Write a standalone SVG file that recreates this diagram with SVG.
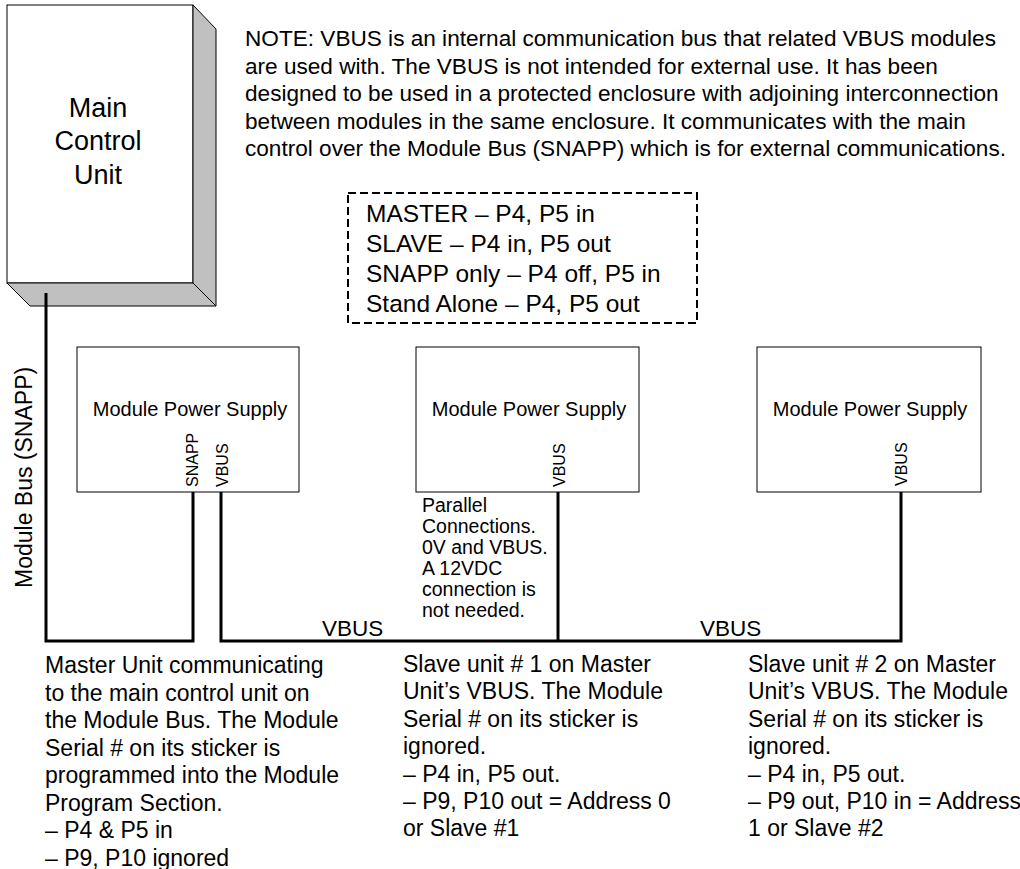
<svg xmlns="http://www.w3.org/2000/svg" width="1020" height="869" viewBox="0 0 1020 869">
<style>
text{font-family:"Liberation Sans",Arial,sans-serif;fill:#000}
.box{fill:#fff;stroke:#000;stroke-width:1}
.side{fill:#c0c0c0;stroke:#000;stroke-width:1;stroke-linejoin:miter}
.wire{fill:none;stroke:#000;stroke-width:3;stroke-linejoin:miter;stroke-linecap:butt}
.dash{fill:none;stroke:#000;stroke-width:2;stroke-dasharray:8 4}
.body{font-size:23px}
.mps{font-size:20px}
.pin{font-size:16px}
</style>
<rect width="1020" height="869" fill="#fff"/>
<g id="main-control-unit">
<rect class="box" x="7" y="5" width="186" height="278"/>
<polygon class="side" points="193,5 216,29 216,306 193,283"/>
<polygon class="side" points="7,283 30,306 216,306 193,283"/>
<text x="98" y="117" font-size="27" text-anchor="middle">Main</text>
<text x="98" y="150" font-size="27" text-anchor="middle">Control</text>
<text x="98" y="184" font-size="27" text-anchor="middle">Unit</text>
</g>
<g id="note">
<text x="245" y="46" font-size="22.6">NOTE: VBUS is an internal communication bus that related VBUS modules</text>
<text x="245" y="73.6" font-size="22.6">are used with. The VBUS is not intended for external use. It has been</text>
<text x="245" y="101.2" font-size="22.6">designed to be used in a protected enclosure with adjoining interconnection</text>
<text x="245" y="128.8" font-size="22.6">between modules in the same enclosure. It communicates with the main</text>
<text x="245" y="156.4" font-size="22.6">control over the Module Bus (SNAPP) which is for external communications.</text>
</g>
<g id="jumper-legend">
<rect class="dash" x="348" y="193" width="349" height="130"/>
<text x="366" y="222" font-size="24.5">MASTER – P4, P5 in</text>
<text x="366" y="252" font-size="24.5">SLAVE – P4 in, P5 out</text>
<text x="366" y="282" font-size="24.5">SNAPP only – P4 off, P5 in</text>
<text x="366" y="312" font-size="24.5">Stand Alone – P4, P5 out</text>
</g>
<g id="connectors">
<polyline class="wire" points="46,293 46,641 193,641 193,492"/>
<polyline class="wire" points="221,492 221,641 901,641 901,492"/>
<line class="wire" x1="558" y1="492" x2="558" y2="641"/>
<text x="322" y="636" font-size="22.5">VBUS</text>
<text x="700" y="636" font-size="22.5">VBUS</text>
<text transform="translate(32,588) rotate(-90)" font-size="23">Module Bus (SNAPP)</text>
</g>
<g id="module-1">
<rect class="box" x="77" y="347" width="222" height="145"/>
<text class="mps" x="190" y="416" text-anchor="middle">Module Power Supply</text>
<text class="pin" transform="translate(198,487) rotate(-90)">SNAPP</text>
<text class="pin" transform="translate(228,487) rotate(-90)">VBUS</text>
</g>
<g id="module-2">
<rect class="box" x="416" y="347" width="223" height="145"/>
<text class="mps" x="529" y="416" text-anchor="middle">Module Power Supply</text>
<text class="pin" transform="translate(565,487) rotate(-90)">VBUS</text>
</g>
<g id="module-3">
<rect class="box" x="757" y="347" width="224" height="145"/>
<text class="mps" x="870" y="416" text-anchor="middle">Module Power Supply</text>
<text class="pin" transform="translate(907,486) rotate(-90)">VBUS</text>
</g>
<g id="parallel-note">
<text x="422" y="512" font-size="19.5">Parallel</text>
<text x="422" y="533" font-size="19.5">Connections.</text>
<text x="422" y="554" font-size="19.5">0V and VBUS.</text>
<text x="422" y="575" font-size="19.5">A 12VDC</text>
<text x="422" y="596" font-size="19.5">connection is</text>
<text x="422" y="617" font-size="19.5">not needed.</text>
</g>
<g id="master-desc" class="body">
<text x="45" y="673">Master Unit communicating</text>
<text x="45" y="700.5">to the main control unit on</text>
<text x="45" y="728">the Module Bus. The Module</text>
<text x="45" y="755.5">Serial # on its sticker is</text>
<text x="45" y="783">programmed into the Module</text>
<text x="45" y="810.5">Program Section.</text>
<text x="45" y="838">– P4 &amp; P5 in</text>
<text x="45" y="865.5">– P9, P10 ignored</text>
</g>
<g id="slave1-desc" class="body">
<text x="403" y="672">Slave unit # 1 on Master</text>
<text x="403" y="699.4">Unit’s VBUS. The Module</text>
<text x="403" y="726.8">Serial # on its sticker is</text>
<text x="403" y="754.2">ignored.</text>
<text x="403" y="781.6">– P4 in, P5 out.</text>
<text x="403" y="809">– P9, P10 out = Address 0</text>
<text x="403" y="836.4">or Slave #1</text>
</g>
<g id="slave2-desc" class="body">
<text x="748" y="672">Slave unit # 2 on Master</text>
<text x="748" y="699.4">Unit’s VBUS. The Module</text>
<text x="748" y="726.8">Serial # on its sticker is</text>
<text x="748" y="754.2">ignored.</text>
<text x="748" y="781.6">– P4 in, P5 out.</text>
<text x="748" y="809">– P9 out, P10 in = Address</text>
<text x="748" y="836.4">1 or Slave #2</text>
</g>
</svg>
